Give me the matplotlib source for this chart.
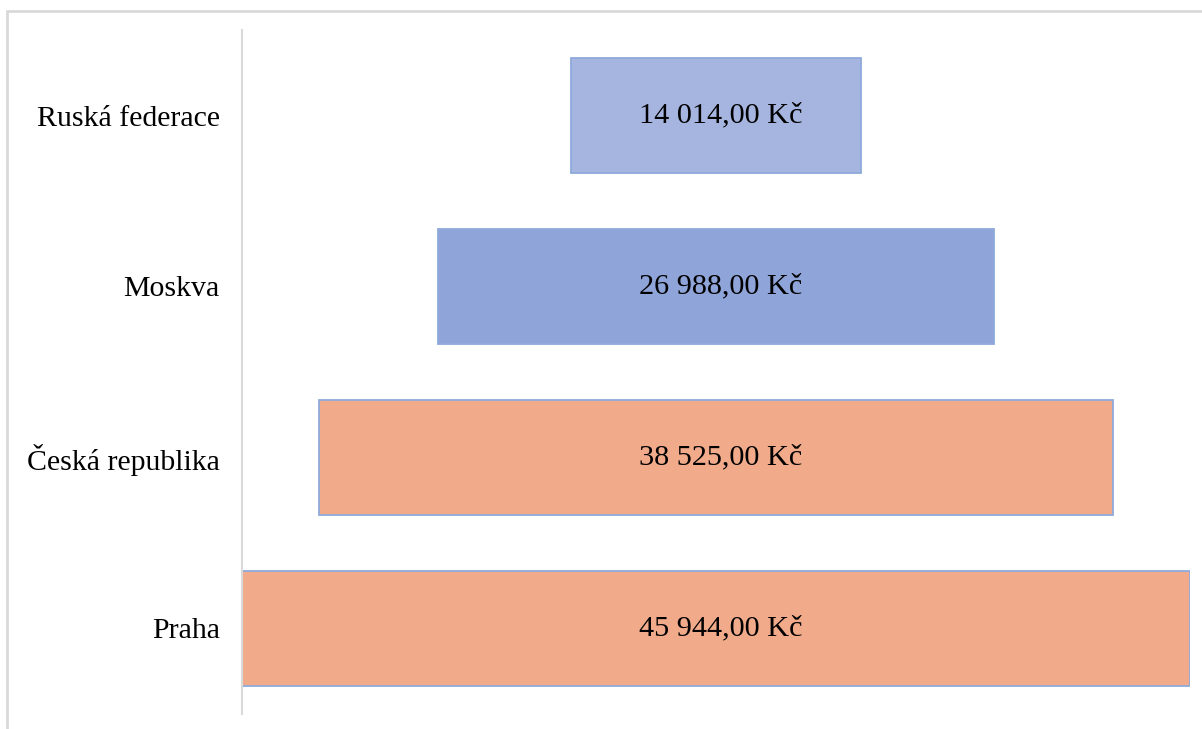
import matplotlib.pyplot as plt
from matplotlib.patches import Rectangle

# Data (top to bottom in the chart)
categories = ['Ruská federace', 'Moskva', 'Česká republika', 'Praha']
values = [14014, 26988, 38525, 45944]
fills = ['#a6b5df', '#8fa4d9', '#f1ab8b', '#f1ab8b']

plt.rcParams['font.family'] = ['Liberation Serif', 'DejaVu Serif']

fig = plt.figure(figsize=(12.02, 7.29), dpi=100)
ax = fig.add_axes([242 / 1202, 1 - 714 / 729, (1190 - 242) / 1202, 684 / 729])

vmax = max(values)
y = list(range(len(categories)))
lefts = [(vmax - v) / 2 for v in values]

ax.barh(y, values, left=lefts, height=0.667, color=fills,
        edgecolor='#8eaadb', linewidth=1.3)

for yi, v in zip(y, values):
    s = f'{v:,.2f}'.replace(',', ' ').replace('.', ',') + ' Kč'
    ax.text(vmax / 2 + 230, yi, s, ha='center', va='center', fontsize=21.8, color='black')

ax.set_xlim(0, vmax)
ax.set_ylim(len(categories) - 0.5, -0.5)
ax.set_yticks(y)
ax.set_yticklabels(categories, fontsize=21.5)
ax.tick_params(axis='y', length=0, pad=16)
ax.set_xticks([])
for side in ['top', 'right', 'bottom']:
    ax.spines[side].set_visible(False)
ax.spines['left'].set_color('#d9d9d9')
ax.spines['left'].set_linewidth(1.5)

# chart area frame
fig.patches.append(Rectangle((7 / 1202, -0.05), 1.1, 1 - 11 / 729 + 0.05,
                             transform=fig.transFigure, fill=False,
                             edgecolor='#d9d9d9', linewidth=2))

fig.savefig('out.png', dpi=100)
